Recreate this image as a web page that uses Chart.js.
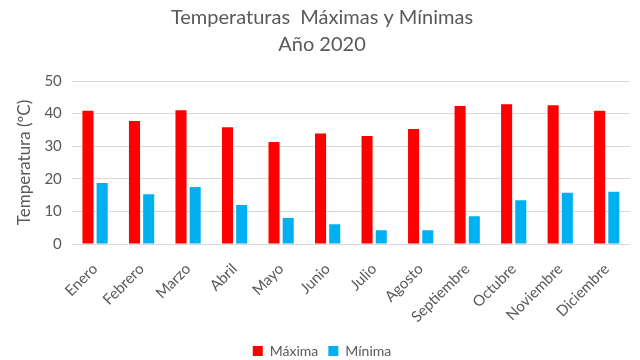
<!DOCTYPE html>
<html>
<head>
<meta charset="utf-8">
<script src="https://cdn.jsdelivr.net/npm/chart.js@4"></script>
<style>
  body { margin: 0; background: #fff; }
  #chart { display: block; }
</style>
</head>
<body>
<canvas id="chart" width="640" height="360"></canvas>
<script>
const months = ["Enero", "Febrero", "Marzo", "Abril", "Mayo", "Junio", "Julio", "Agosto", "Septiembre", "Octubre", "Noviembre", "Diciembre"];
const maxima = [40.9, 37.7, 41.0, 35.8, 31.3, 33.9, 33.1, 35.3, 42.3, 42.9, 42.6, 40.9];
const minima = [18.7, 15.3, 17.5, 12.0, 8.0, 6.1, 4.2, 4.2, 8.5, 13.4, 15.7, 16.0];
const titleLines = ["Temperaturas  Máximas y Mínimas", "Año 2020"];
const yTitle = "Temperatura (ºC)";

const grey = "#595959";
const fontFamily = "Lato, 'Open Sans', sans-serif";

const ctx = document.getElementById("chart").getContext("2d");
new Chart(ctx, {
  type: "bar",
  data: {
    labels: months,
    datasets: [
      {
        label: "Máxima",
        data: maxima,
        backgroundColor: "#FF0000",
        barPercentage: 0.78,
        categoryPercentage: 0.61,
      },
      {
        label: "Mínima",
        data: minima,
        backgroundColor: "#00B0F0",
        barPercentage: 0.78,
        categoryPercentage: 0.61,
      },
    ],
  },
  options: {
    responsive: false,
    animation: false,
    layout: { padding: { top: 2, left: 14, right: 10, bottom: -8 } },
    plugins: {
      title: {
        display: true,
        text: titleLines,
        color: grey,
        font: { family: fontFamily, size: 20, weight: "normal", lineHeight: 1.35 },
        padding: { top: 2, bottom: 23 },
      },
      legend: {
        position: "bottom",
        labels: {
          color: grey,
          font: { family: fontFamily, size: 14 },
          boxWidth: 10,
          boxHeight: 10,
          padding: 10,
        },
      },
      tooltip: { enabled: false },
    },
    scales: {
      x: {
        grid: { display: false },
        border: { display: false },
        ticks: {
          color: grey,
          font: { family: fontFamily, size: 15 },
          minRotation: 45,
          maxRotation: 45,
          padding: 8,
        },
      },
      y: {
        min: 0,
        max: 50,
        ticks: {
          stepSize: 10,
          color: grey,
          font: { family: fontFamily, size: 15 },
          padding: 10,
        },
        grid: { color: "#d9d9d9", drawTicks: false },
        border: { display: false },
        title: {
          display: true,
          text: yTitle,
          color: grey,
          font: { family: fontFamily, size: 17 },
          padding: 0,
        },
      },
    },
  },
});
</script>
</body>
</html>
